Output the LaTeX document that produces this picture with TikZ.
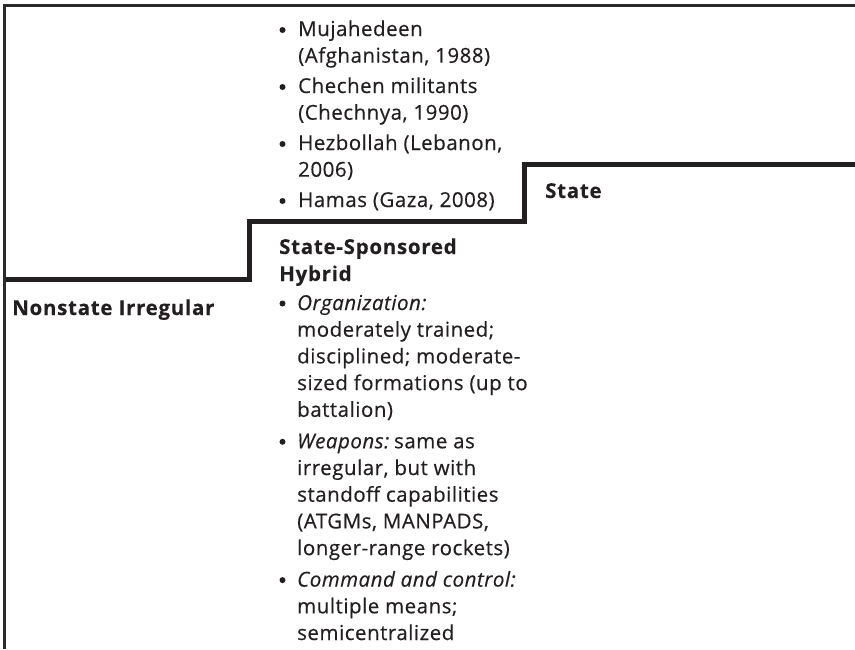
\documentclass[tikz,border=0pt]{standalone}
\usepackage{fontspec}
\setmainfont{Open Sans}[LetterSpace=2.5,UprightFeatures={FakeBold=0.4},ItalicFeatures={FakeBold=0.4},BoldFeatures={FakeBold=0.3,LetterSpace=3.5}]
\definecolor{ink}{HTML}{231F20}
\definecolor{frame}{HTML}{2B2B2B}
\newcommand{\lines}[1]{\begin{tabular}[t]{@{}l@{}}#1\end{tabular}}
\begin{document}
\begin{tikzpicture}[x=1pt,y=-1pt,
  txt/.style={anchor=base west,inner sep=0pt,font=\fontsize{20.5}{26.7}\selectfont,text=ink},
  hd/.style={txt,font=\fontsize{20.5}{27}\selectfont\bfseries},
  dot/.style={circle,fill=ink,inner sep=0pt,minimum size=6pt}]
\useasboundingbox (0,0) rectangle (855,649);
% frame
\draw[frame,line width=2.7pt] (4.5,649) -- (4.5,5.3) -- (855,5.3);
% step line
\draw[ink,line width=5pt] (6,279.7) -- (249.8,279.7) -- (249.8,221.6) -- (524.8,221.6) -- (524.8,164.2) -- (855,164.2);
% headings
\node[hd] (ns) at (12,315) {Nonstate Irregular};
\node[hd] (ssh) at (279,254) {\lines{State-Sponsored\\Hybrid}};
\node[hd] (st) at (545,198) {State};
% examples
\node[dot] (b1) at (282.5,30) {};
\node[txt] (e1) at (298,36) {\lines{Mujahedeen\\(Afghanistan, 1988)}};
\node[dot] (b2) at (282.5,87) {};
\node[txt] (e2) at (298,93) {\lines{Chechen militants\\(Chechnya, 1990)}};
\node[dot] (b3) at (282.5,144) {};
\node[txt] (e3) at (298,150) {\lines{Hezbollah (Lebanon,\\2006)}};
\node[dot] (b4) at (282.5,201) {};
\node[txt] (e4) at (298,207) {Hamas (Gaza, 2008)};
% characteristics
\node[dot] (c1b) at (282.5,303.5) {};
\node[txt] (c1) at (297,310) {\lines{\textit{Organization:}\\moderately trained;\\disciplined; moderate-\\sized formations (up to\\battalion)}};
\node[dot] (c2b) at (282.5,441.8) {};
\node[txt] (c2) at (297,448.3) {\lines{\textit{Weapons:}\kern-1.5pt\ same as\\irregular, but with\\standoff capabilities\\(ATGMs, MANPADS,\\longer-range rockets)}};
\node[dot] (c3b) at (282.5,580.1) {};
\node[txt] (c3) at (297,586.6) {\lines{\textit{Command and control:}\\multiple means;\\semicentralized}};
\end{tikzpicture}
\end{document}
